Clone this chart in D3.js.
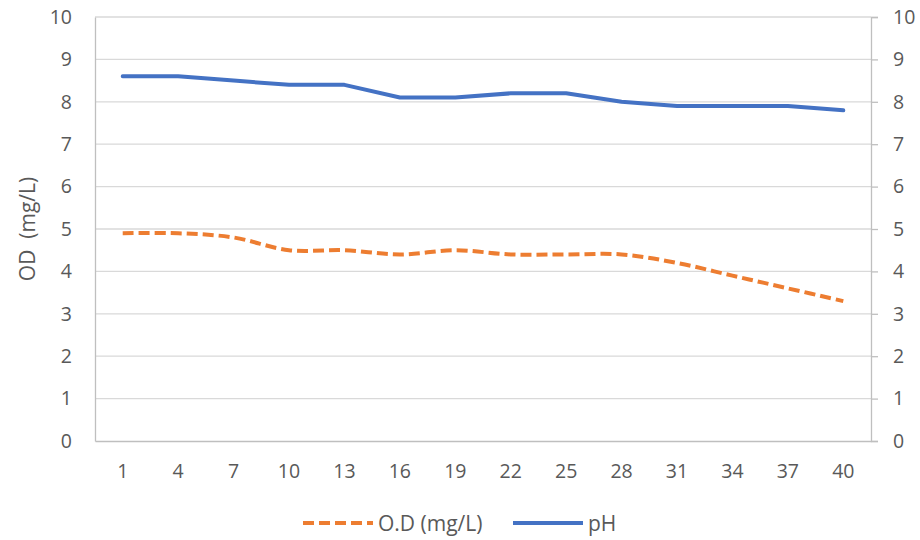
<!DOCTYPE html>
<html>
<head>
<meta charset="utf-8">
<script src="https://cdn.jsdelivr.net/npm/d3@7"></script>
<style>
  body { margin: 0; background: #fff; }
  text { font-family: "Open Sans", "Liberation Sans", sans-serif; fill: #595959; }
</style>
</head>
<body>
<div id="chart"></div>
<script>
var days = ["1", "4", "7", "10", "13", "16", "19", "22", "25", "28", "31", "34", "37", "40"];
var odValues = [4.9, 4.9, 4.8, 4.5, 4.5, 4.4, 4.5, 4.4, 4.4, 4.4, 4.2, 3.9, 3.6, 3.3];
var phValues = [8.6, 8.6, 8.5, 8.4, 8.4, 8.1, 8.1, 8.2, 8.2, 8.0, 7.9, 7.9, 7.9, 7.8];
var yTicks = [0, 1, 2, 3, 4, 5, 6, 7, 8, 9, 10];

var width = 920, height = 540;
var margin = { top: 17, right: 49, bottom: 99, left: 95 };
var plotW = width - margin.left - margin.right,
    plotH = height - margin.top - margin.bottom;
var font = "'Open Sans', 'Liberation Sans', sans-serif";

var svg = d3.select("#chart")
    .append("svg")
    .attr("width", width)
    .attr("height", height);

var g = svg.append("g")
    .attr("transform", "translate(" + margin.left + "," + margin.top + ")");

var x = d3.scaleBand()
    .domain(days)
    .range([0, plotW]);

var y = d3.scaleLinear()
    .domain([0, 10])
    .range([plotH, 0]);

// gridlines
g.append("g")
    .selectAll("line")
    .data(yTicks.filter(function (d) { return d > 0; }))
    .enter()
    .append("line")
    .attr("x1", 0)
    .attr("x2", plotW)
    .attr("y1", function (d) { return y(d); })
    .attr("y2", function (d) { return y(d); })
    .attr("stroke", "#d9d9d9")
    .attr("stroke-width", 1.3);

// left axis
var yLeft = g.append("g")
    .call(d3.axisLeft(y).tickValues(yTicks).tickSize(0).tickPadding(23));
yLeft.select(".domain").attr("stroke", "#bfbfbf").attr("stroke-width", 1.3);

// right axis
var yRight = g.append("g")
    .attr("transform", "translate(" + plotW + ",0)")
    .call(d3.axisRight(y).tickValues(yTicks).tickSize(7).tickPadding(15));
yRight.select(".domain").attr("stroke", "#bfbfbf").attr("stroke-width", 1.3);
yRight.selectAll(".tick line").attr("stroke", "#bfbfbf").attr("stroke-width", 1.3);

// bottom axis
var xAxis = g.append("g")
    .attr("transform", "translate(0," + plotH + ")")
    .call(d3.axisBottom(x).tickSize(0).tickPadding(23));
xAxis.select(".domain").attr("stroke", "#bfbfbf").attr("stroke-width", 1.3);

svg.selectAll(".tick text")
    .style("font-family", font)
    .style("font-size", "19.5px")
    .attr("fill", "#595959");

// y title
svg.append("text")
    .attr("transform", "translate(35," + (margin.top + plotH / 2) + ") rotate(-90)")
    .attr("text-anchor", "middle")
    .style("font-size", "21px")
    .style("white-space", "pre")
    .text("OD  (mg/L)");

var cx = function (d, i) { return x(days[i]) + x.bandwidth() / 2; };

var odLine = d3.line()
    .x(function (d, i) { return cx(d, i); })
    .y(function (d) { return y(d); })
    .curve(d3.curveCatmullRom.alpha(0.5));

var phLine = d3.line()
    .x(function (d, i) { return cx(d, i); })
    .y(function (d) { return y(d); });

g.append("path")
    .datum(odValues)
    .attr("d", odLine)
    .attr("fill", "none")
    .attr("stroke", "#ed7d31")
    .attr("stroke-width", 4)
    .attr("stroke-dasharray", "11,5");

g.append("path")
    .datum(phValues)
    .attr("d", phLine)
    .attr("fill", "none")
    .attr("stroke", "#4472c4")
    .attr("stroke-width", 4)
    .attr("stroke-linejoin", "round")
    .attr("stroke-linecap", "round");

// legend
var legend = svg.append("g").attr("transform", "translate(0,523)");
var items = [
    { name: "O.D (mg/L)", color: "#ed7d31", dash: "11,5", x: 303 },
    { name: "pH", color: "#4472c4", dash: null, x: 513 }
];
items.forEach(function (it) {
    legend.append("line")
        .attr("x1", it.x)
        .attr("x2", it.x + 70)
        .attr("y1", 0)
        .attr("y2", 0)
        .attr("stroke", it.color)
        .attr("stroke-width", 4)
        .attr("stroke-dasharray", it.dash);
    legend.append("text")
        .attr("x", it.x + 75)
        .attr("y", 7.5)
        .style("font-size", "21px")
        .text(it.name);
});
</script>
</body>
</html>
